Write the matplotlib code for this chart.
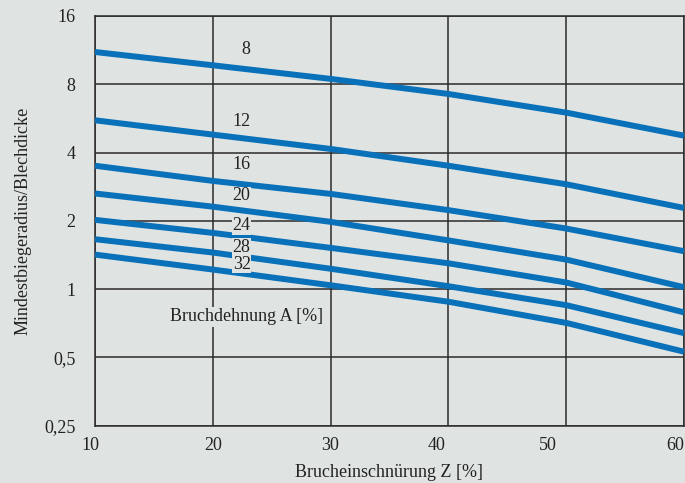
import numpy as np
import matplotlib
matplotlib.use('Agg')
import matplotlib.pyplot as plt
from matplotlib.ticker import FixedLocator, FixedFormatter, NullLocator
from matplotlib.transforms import ScaledTranslation

# Brucheinschnuerung Z [%]
z_values = [10, 20, 30, 40, 50, 60]

# Mindestbiegeradius/Blechdicke fuer Bruchdehnung A [%]
a_labels = ['8', '12', '16', '20', '24', '28', '32']
r_a8 = [11.1, 9.7, 8.45, 7.25, 6.0, 4.75]
r_a12 = [5.55, 4.8, 4.15, 3.5, 2.9, 2.28]
r_a16 = [3.5, 3.0, 2.63, 2.23, 1.85, 1.47]
r_a20 = [2.64, 2.31, 1.98, 1.64, 1.35, 1.02]
r_a24 = [2.02, 1.77, 1.52, 1.30, 1.07, 0.79]
r_a28 = [1.66, 1.45, 1.23, 1.03, 0.85, 0.64]
r_a32 = [1.42, 1.22, 1.04, 0.88, 0.71, 0.53]

# label anchors (Z, r)
label_z = [22.8, 22.45, 22.45, 22.45, 22.45, 22.45, 22.45]
label_r = [11.33, 5.5, 3.54, 2.58, 1.905, 1.524, 1.288]

y_ticks = [0.25, 0.5, 1, 2, 4, 8, 16]
y_ticklabels = ['0,25', '0,5', '1', '2', '4', '8', '16']
x_ticks = [10, 20, 30, 40, 50, 60]
x_ticklabels = ['10', '20', '30', '40', '50', '60']
# the printed labels sit a little left of their grid lines (pixels)
x_label_shift = [-5, 0, -1, -12, -18, -9]

bg = '#dfe3e2'
blue = '#0871b9'
grid_col = '#2b2b2b'
txt_col = '#222222'

plt.rcParams['font.family'] = ['Liberation Serif', 'DejaVu Serif']
plt.rcParams['font.size'] = 13

fig = plt.figure(figsize=(6.85, 4.83), dpi=100, facecolor=bg)
ax = fig.add_axes([0.1387, 0.1186, 0.8598, 0.8483])
ax.set_facecolor(bg)

ax.set_yscale('log', base=2)
ax.set_xlim(10, 60)
ax.set_ylim(0.25, 16)

ax.yaxis.set_major_locator(FixedLocator(y_ticks))
ax.yaxis.set_major_formatter(FixedFormatter(y_ticklabels))
ax.yaxis.set_minor_locator(NullLocator())
ax.set_xticks(x_ticks)
ax.set_xticklabels([])
ax.tick_params(axis='both', length=0, labelsize=13, colors=txt_col)
ax.tick_params(axis='y', pad=14)

for xv, xl, dx in zip(x_ticks, x_ticklabels, x_label_shift):
    tr = ax.get_xaxis_transform() + ScaledTranslation(dx / 100, -20 / 100, fig.dpi_scale_trans)
    ax.text(xv, 0, xl, transform=tr, ha='center', va='center', fontsize=13,
            color=txt_col, clip_on=False)

ax.grid(True, color=grid_col, linewidth=1.1, zorder=1)
ax.set_axisbelow(True)
for sp in ax.spines.values():
    sp.set_color(grid_col)
    sp.set_linewidth(1.1)

series = [r_a8, r_a12, r_a16, r_a20, r_a24, r_a28, r_a32]
for vals in series:
    ax.plot(z_values, vals, color=blue, linewidth=4.3, solid_capstyle='butt',
            solid_joinstyle='round', zorder=3)

for lab, lz, lr in zip(a_labels, label_z, label_r):
    ax.text(lz, lr, lab, ha='center', va='center', fontsize=13, color=txt_col, zorder=4,
            bbox=dict(facecolor=bg, edgecolor='none', pad=0.5))

ax.text(22.9, 0.756, 'Bruchdehnung A [%]', ha='center', va='center', fontsize=13,
        color=txt_col, zorder=4, bbox=dict(facecolor=bg, edgecolor='none', pad=1))

ax.set_xlabel('Brucheinschnürung Z [%]', fontsize=13, color=txt_col, labelpad=24)
ax.set_ylabel('Mindestbiegeradius/Blechdicke', fontsize=13, color=txt_col, labelpad=9)

fig.savefig('out.png', dpi=100, facecolor=bg)
